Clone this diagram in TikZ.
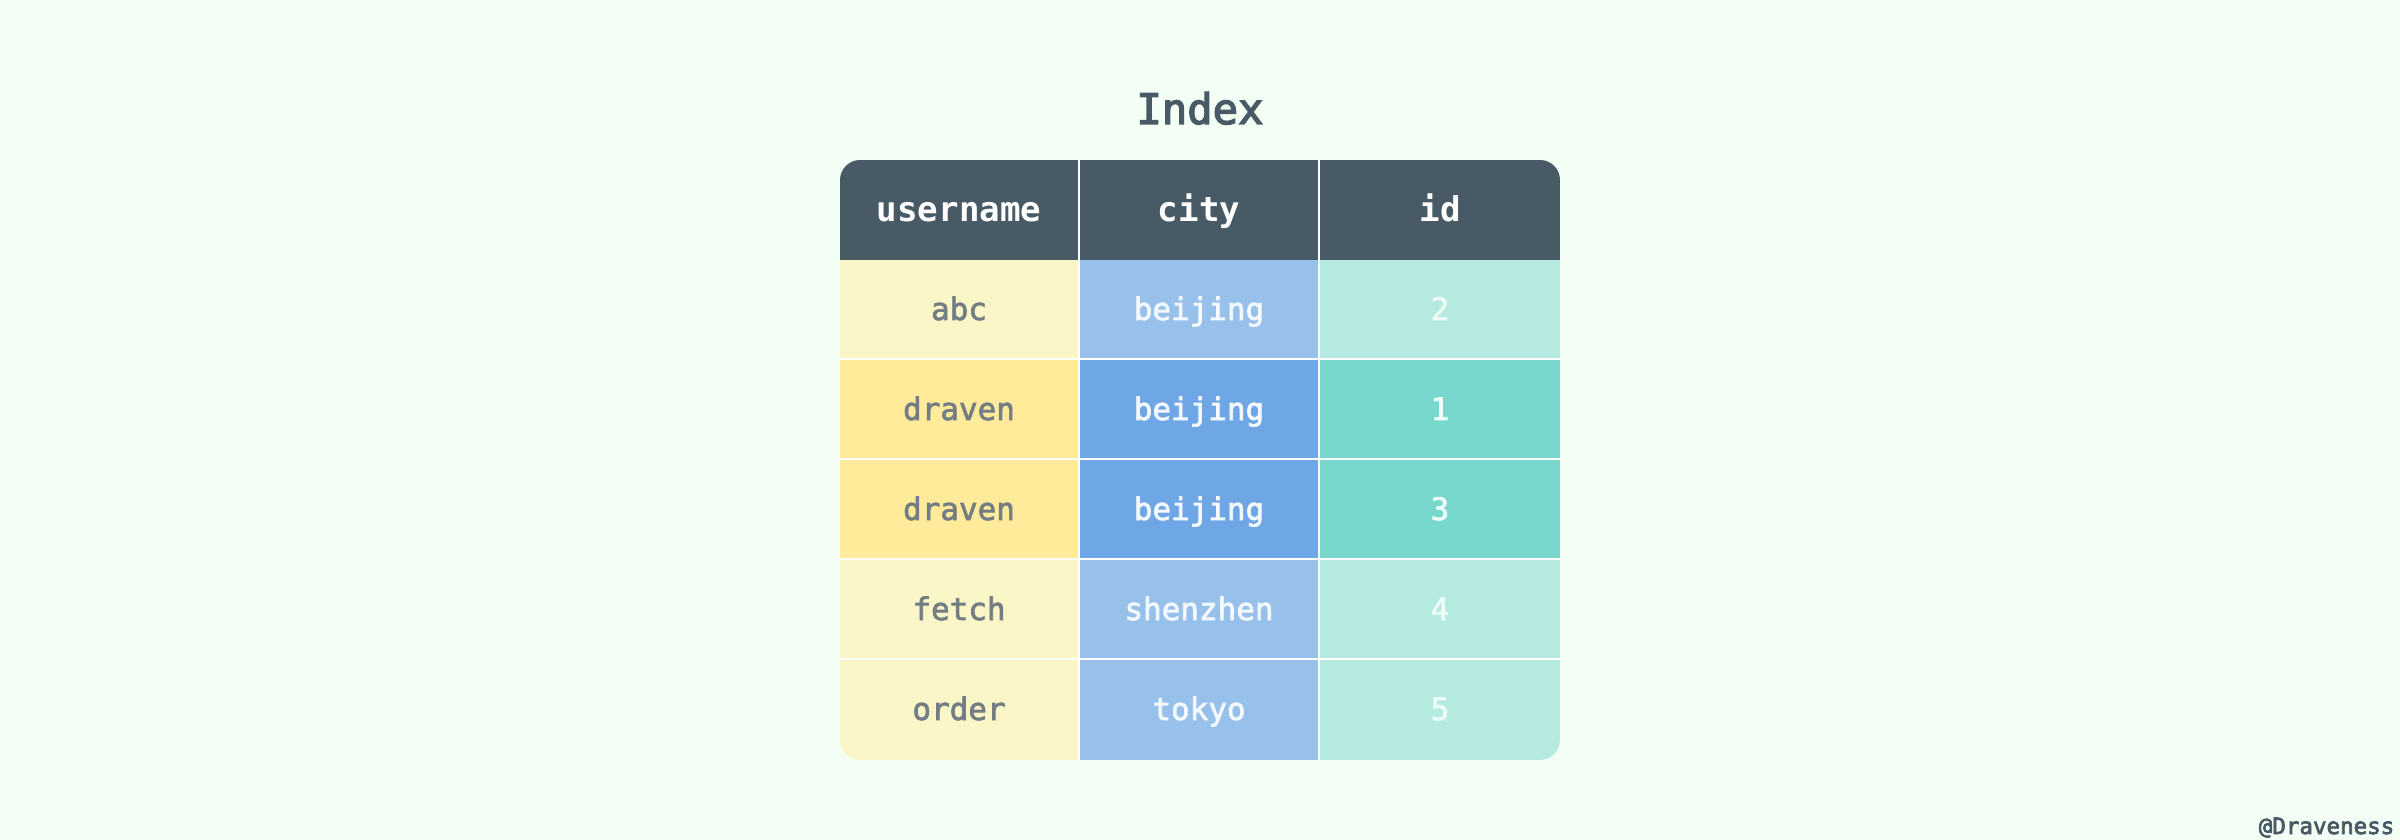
\documentclass[tikz,border=0pt]{standalone}
\usepackage{fontspec}
\setmonofont{DejaVu Sans Mono}
\newfontfamily\medmono{DejaVu Sans Mono}[FakeBold=2.2]
\newfontfamily\semimono{DejaVu Sans Mono}[FakeBold=3.2]
\definecolor{bg}{HTML}{F3FFF4}
\definecolor{hdr}{HTML}{475A65}
\definecolor{uL}{HTML}{FBF6C8}
\definecolor{uD}{HTML}{FFEB9A}
\definecolor{cL}{HTML}{97C0EB}
\definecolor{cD}{HTML}{6FA6E6}
\definecolor{iL}{HTML}{B5EAE0}
\definecolor{iD}{HTML}{79D8CD}
\definecolor{utxt}{HTML}{737D83}
\definecolor{ctxt}{HTML}{F4F9FF}
\definecolor{itxt}{HTML}{EEFCF8}
\newcommand{\hdrtext}[1]{{\ttfamily\bfseries\fontsize{9.7pt}{12pt}\selectfont #1}}
\newcommand{\celltext}[1]{{\medmono\fontsize{8.8pt}{10pt}\selectfont #1}}
\tikzset{
  txt/.style={anchor=base, inner sep=0pt, outer sep=0pt},
  hdrlabel/.style={txt, text=white},
  ulabel/.style={txt, text=utxt},
  clabel/.style={txt, text=ctxt},
  ilabel/.style={txt, text=itxt},
}
\begin{document}
\begin{tikzpicture}[x=0.01cm,y=-0.01cm]
\useasboundingbox (0,0) rectangle (2400,840);
\fill[bg] (0,0) rectangle (2400,840);
% title
\node[txt, text=hdr] (title) at (1200,124) {\semimono\fontsize{12pt}{14pt}\selectfont Index};
% table
\begin{scope}
\clip[rounded corners=0.2cm] (840,160) rectangle (1560,760);
\fill[white] (840,160) rectangle (1560,760);
% header
\fill[hdr] (840,160) rectangle (1078.3,260);
\fill[hdr] (1080,160) rectangle (1318.3,260);
\fill[hdr] (1320,160) rectangle (1560,260);
% rows
\foreach \i/\s in {1/L,2/D,3/D,4/L,5/L}{
  \pgfmathsetmacro{\top}{160+100*\i}
  \pgfmathsetmacro{\bot}{\i==5 ? 760 : 160+100*\i+98}
  \fill[u\s] (840,\top) rectangle (1078.3,\bot);
  \fill[c\s] (1080,\top) rectangle (1318.3,\bot);
  \fill[i\s] (1320,\top) rectangle (1560,\bot);
}
\end{scope}
% header labels
\node[hdrlabel] (h1) at (959,222) {\hdrtext{username}};
\node[hdrlabel] (h2) at (1199,222) {\hdrtext{city}};
\node[hdrlabel] (h3) at (1440,222) {\hdrtext{id}};
% row labels
\node[ulabel] (u1) at (959,320) {\celltext{abc}};
\node[clabel] (c1) at (1199,320) {\celltext{beijing}};
\node[ilabel] (i1) at (1440,320) {\celltext{2}};
\node[ulabel] (u2) at (959,420) {\celltext{draven}};
\node[clabel] (c2) at (1199,420) {\celltext{beijing}};
\node[ilabel] (i2) at (1440,420) {\celltext{1}};
\node[ulabel] (u3) at (959,520) {\celltext{draven}};
\node[clabel] (c3) at (1199,520) {\celltext{beijing}};
\node[ilabel] (i3) at (1440,520) {\celltext{3}};
\node[ulabel] (u4) at (959,620) {\celltext{fetch}};
\node[clabel] (c4) at (1199,620) {\celltext{shenzhen}};
\node[ilabel] (i4) at (1440,620) {\celltext{4}};
\node[ulabel] (u5) at (959,720) {\celltext{order}};
\node[clabel] (c5) at (1199,720) {\celltext{tokyo}};
\node[ilabel] (i5) at (1440,720) {\celltext{5}};
% watermark
\node[anchor=base east, inner sep=0pt, text=hdr] (mark) at (2395,834) {\semimono\fontsize{6.4pt}{7pt}\selectfont @Draveness};
\end{tikzpicture}
\end{document}
